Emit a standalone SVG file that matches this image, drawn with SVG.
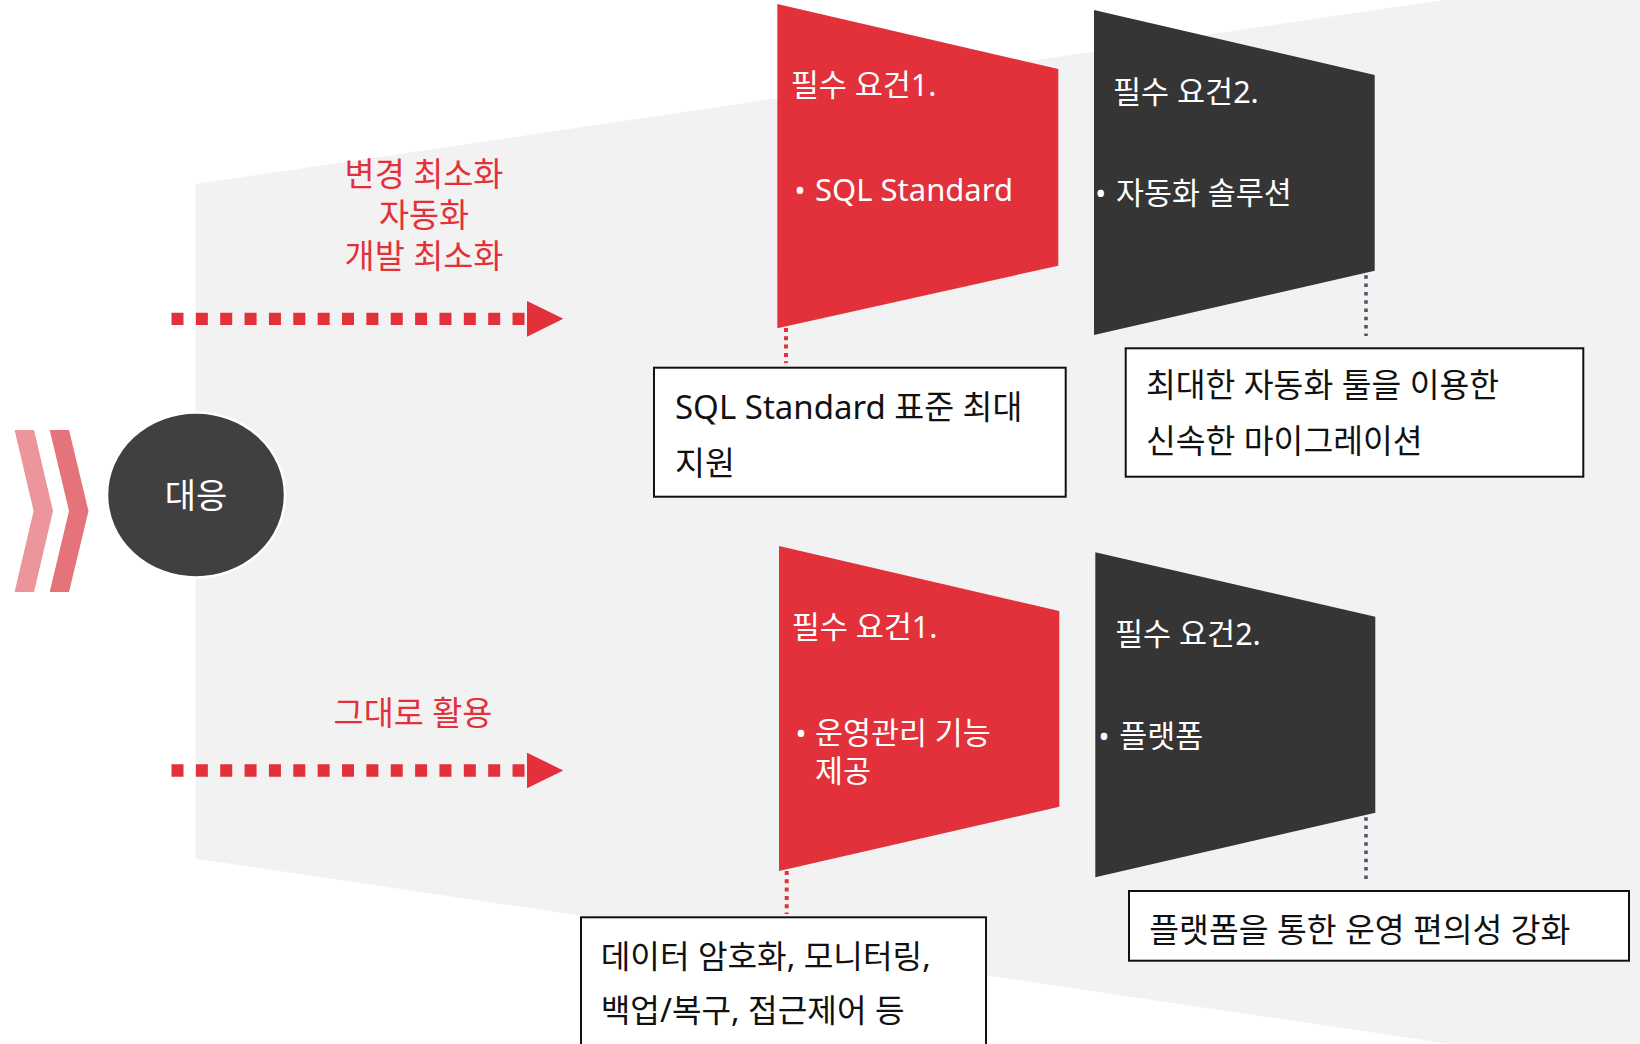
<svg xmlns="http://www.w3.org/2000/svg" width="1640" height="1044" viewBox="0 0 1640 1044">
<defs>
<style>
.t{font-family:'Noto Sans','Noto Sans CJK KR',sans-serif;}
.w{fill:#FFFFFF;}
.k{fill:#111111;}
.r{fill:#E2313A;}
.title{font-size:30.5px;}
.bul{font-size:30.4px;}
.lab{font-size:32.7px;}
.box{fill:#FFFFFF;stroke:#111111;stroke-width:2;}
.arrow{stroke:#E2313A;stroke-width:12.3;stroke-dasharray:12 12.36;fill:none;}
.rdot{stroke:#E2313A;stroke-width:4;stroke-dasharray:4 4.3;fill:none;}
.gdot{stroke:#44546A;stroke-width:3.5;stroke-dasharray:3.5 4.8;fill:none;}
</style>
<marker id="ah" markerUnits="userSpaceOnUse" markerWidth="37" markerHeight="36" viewBox="0 0 37 36" refX="0" refY="18" orient="auto">
<path d="M0,0 L36.6,18 L0,36 Z" fill="#E2313A"/>
</marker>
</defs>
<rect width="1640" height="1044" fill="#FFFFFF"/>
<g id="background">
<polygon points="195.6,184 1640,-29 1640,1072 195.6,858.7" fill="#F2F2F2"/>
</g>
<g id="chevrons">
<polygon points="14.6,430 34,430 53,511 34,592 14.6,592 33.6,511" fill="#EC959B"/>
<polygon points="49.7,430 69,430 88.5,511 69,592 49.7,592 69,511" fill="#E5747A"/>
</g>
<g id="node-response">
<ellipse cx="196" cy="495" rx="89" ry="82.5" fill="#404040" stroke="#FFFFFF" stroke-width="2.5"/>
<text class="t w" x="196" y="507.5" font-size="34" text-anchor="middle">대응</text>
</g>
<g id="connectors">
<path class="arrow" d="M171.5 318.8 H526.7" marker-end="url(#ah)"/>
<path class="arrow" d="M171.5 770.5 H526.7" marker-end="url(#ah)"/>
<path class="rdot" d="M786 328 V363"/>
<path class="gdot" d="M1366 267 V336"/>
<path class="rdot" d="M786.7 871 V914"/>
<path class="gdot" d="M1366 809 V879"/>
</g>
<g id="label-top">
<text class="t r lab" x="424" y="185.5" text-anchor="middle">변경 최소화</text>
<text class="t r lab" x="424" y="227" text-anchor="middle">자동화</text>
<text class="t r lab" x="424" y="268" text-anchor="middle">개발 최소화</text>
</g>
<g id="label-bottom">
<text class="t r lab" x="413" y="724.5" text-anchor="middle">그대로 활용</text>
</g>
<g id="req1-top">
<polygon points="777.3,4 1058.3,69 1058.3,265.7 777.3,328.3" fill="#E2313A"/>
<text class="t w title" x="790.7" y="95.5">필수 요건1.</text>
<text class="t w" x="800" y="200.5" font-size="29" text-anchor="middle">•</text>
<text class="t w" x="815" y="200.5" font-size="31">SQL Standard</text>
</g>
<g id="req2-top">
<polygon points="1094,10 1374.7,75 1374.7,270.7 1094,335" fill="#353535"/>
<text class="t w title" x="1113" y="103">필수 요건2.</text>
<text class="t w" x="1100.7" y="203.5" font-size="29" text-anchor="middle">•</text>
<text class="t w bul" x="1116" y="203.5">자동화 솔루션</text>
</g>
<g id="req1-bottom">
<polygon points="779,546 1059.3,611 1059.3,806.7 779,871" fill="#E2313A"/>
<text class="t w title" x="791.7" y="637.5">필수 요건1.</text>
<text class="t w" x="801" y="744" font-size="29" text-anchor="middle">•</text>
<text class="t w bul" x="815" y="744">운영관리 기능</text>
<text class="t w bul" x="815" y="781.5">제공</text>
</g>
<g id="req2-bottom">
<polygon points="1095.3,552.3 1375.3,616.7 1375.3,812.7 1095.3,877.3" fill="#353535"/>
<text class="t w title" x="1115" y="645">필수 요건2.</text>
<text class="t w" x="1104" y="746.5" font-size="29" text-anchor="middle">•</text>
<text class="t w bul" x="1119.3" y="746.5">플랫폼</text>
</g>
<g id="box-sql">
<rect class="box" x="654" y="367.7" width="411.7" height="129"/>
<text class="t k" x="675" y="418.5" font-size="32.5"><tspan font-size="33">SQL Standard</tspan> 표준 최대</text>
<text class="t k" x="675" y="474.5" font-size="32.5">지원</text>
</g>
<g id="box-auto">
<rect class="box" x="1125.7" y="348.3" width="457.6" height="128.4"/>
<text class="t k" x="1146" y="397" font-size="32.4">최대한 자동화 툴을 이용한</text>
<text class="t k" x="1146" y="453" font-size="32.4">신속한 마이그레이션</text>
</g>
<g id="box-ops">
<rect class="box" x="581" y="917.3" width="405" height="140"/>
<text class="t k" x="600.7" y="968" font-size="32.2">데이터 암호화, 모니터링,</text>
<text class="t k" x="600.7" y="1022" font-size="32.2">백업/복구, 접근제어 등</text>
</g>
<g id="box-platform">
<rect class="box" x="1129" y="891" width="500" height="69.7"/>
<text class="t k" x="1149.3" y="941.5" font-size="32.4">플랫폼을 통한 운영 편의성 강화</text>
</g>
</svg>
